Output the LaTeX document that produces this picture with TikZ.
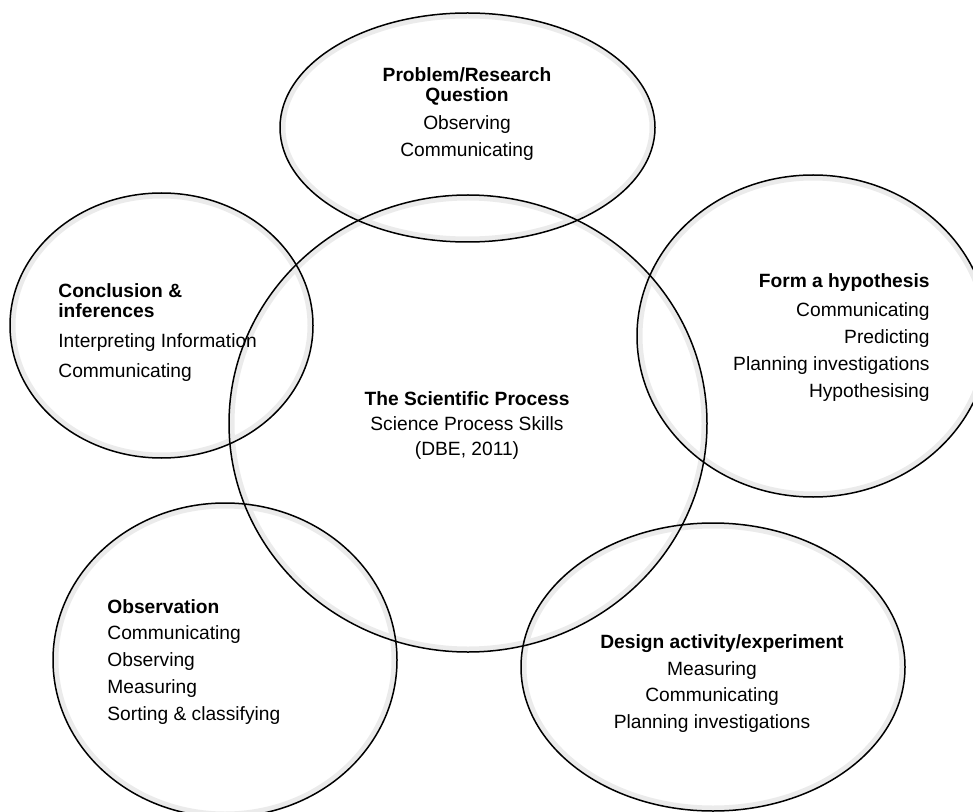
\documentclass[tikz,border=0pt]{standalone}
\usepackage{fontspec}
\setmainfont{Liberation Sans}
\usepackage{tikz}

\begin{document}
\begin{tikzpicture}[x=0.5pt, y=-0.5pt,
		bubble/.style={draw=black, line width=0.75pt},
		glow/.style={draw=black!8, line width=2.5pt},
		txt/.style={inner sep=0pt, font=\fontsize{9.6}{13.5}\selectfont},
		head/.style={txt, font=\fontsize{9.6}{13.5}\selectfont\bfseries}]
	\useasboundingbox (0,0) rectangle (973,812);
	% soft inner shade, then the outlines
	\foreach \cx/\cy/\rx/\ry in {467.5/127.5/187.5/114.5, 468/423.5/239/228.5,
			161.5/325.5/151.5/132.5, 813/336/176/161, 225/660/172/157, 713/667/192/144}
		\draw[glow] (\cx,\cy) ellipse [x radius=\rx-3, y radius=\ry-3];
	\foreach \cx/\cy/\rx/\ry in {467.5/127.5/187.5/114.5, 468/423.5/239/228.5,
			161.5/325.5/151.5/132.5, 813/336/176/161, 225/660/172/157, 713/667/192/144}
		\draw[bubble] (\cx,\cy) ellipse [x radius=\rx, y radius=\ry];

	% base anchor of a multi-line node sits on its last line
	\node[head, anchor=base, align=center] (prob) at (467,102) {Problem/Research\\[-3.5pt]Question};
	\node[txt, anchor=base, align=center] (probl) at (467,157) {Observing\\Communicating};

	\node[head, anchor=base west, align=left] (concl) at (58,318) {Conclusion \&\\[-3.5pt]inferences};
	\node[txt, anchor=base west, align=left] (concll) at (58,377) {Interpreting Information\\[1.5pt]Communicating};

	\node[head, anchor=base east] (hyp) at (930,288) {Form a hypothesis};
	\node[txt, anchor=base east, align=right] (hypl) at (930,397) {Communicating\\Predicting\\Planning investigations\\Hypothesising};

	\node[head, anchor=base] (sci) at (467,405) {The Scientific Process};
	\node[txt, anchor=base, align=center] (scil) at (467,455) {Science Process Skills\\[-1pt](DBE, 2011)};

	\node[head, anchor=base west] (obs) at (107,613) {Observation};
	\node[txt, anchor=base west, align=left] (obsl) at (107,720) {Communicating\\Observing\\Measuring\\Sorting \& classifying};

	\node[head, anchor=base] (des) at (722,648) {Design activity/experiment};
	\node[txt, anchor=base, align=center] (desl) at (712,728) {Measuring\\[-0.3pt]Communicating\\[-0.3pt]Planning investigations};
\end{tikzpicture}
\end{document}
